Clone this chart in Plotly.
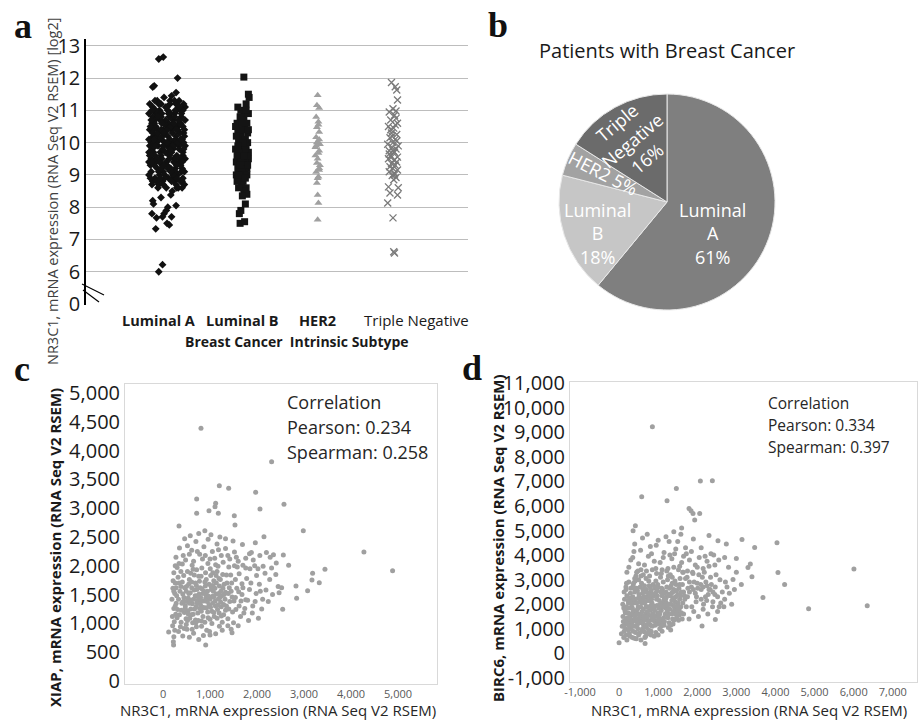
import plotly.graph_objects as go

W, H = 920, 722

# ---------------- Panel a data ----------------
subtypes = ["Luminal A", "Luminal B", "HER2", "Triple Negative"]
subtype_bold = [True, True, True, False]
log2_tickvals = [5, 6, 7, 8, 9, 10, 11, 12, 13]
log2_ticktext = ["0", "6", "7", "8", "9", "10", "11", "12", "13"]

# (horizontal jitter, log2 expression)
luminal_a = [
    (-0.22,10.1),(-0.15,9.4),(-0.08,10.8),(0.0,9.9),(0.07,8.9),(0.14,10.5),(0.21,9.6),(-0.19,11.1),(-0.11,8.7),(-0.03,10.3),
    (0.04,11.2),(0.11,9.2),(0.18,10.0),(0.24,10.7),(-0.24,9.0),(-0.17,10.6),(-0.09,9.7),(-0.01,8.6),(0.06,10.4),(0.13,11.0),
    (0.2,8.8),(-0.2,9.8),(-0.13,11.3),(-0.06,9.3),(0.02,10.6),(0.09,9.5),(0.16,11.3),(0.23,9.1),(-0.23,10.4),(-0.16,8.9),
    (-0.07,10.1),(0.01,11.0),(0.08,9.8),(0.15,8.6),(0.22,10.3),(-0.21,9.5),(-0.14,10.9),(-0.05,9.1),(0.03,9.6),(0.1,10.9),
    (0.17,9.4),(0.24,11.1),(-0.18,10.2),(-0.1,9.0),(-0.02,10.7),(0.05,9.2),(0.12,10.2),(0.19,10.8),(-0.24,10.9),(-0.12,9.9),
    (-0.04,11.4),(0.06,10.0),(0.14,9.0),(0.21,9.7),(-0.2,8.7),(-0.16,11.3),(-0.08,9.6),(0.0,10.5),(0.1,8.8),(0.18,10.6),
    (-0.22,9.3),(-0.14,10.0),(-0.06,8.8),(0.03,10.0),(0.12,11.2),(0.2,9.2),(-0.18,9.7),(-0.1,11.0),(-0.01,9.4),(0.08,10.7),
    (0.16,9.9),(0.23,10.4),(-0.23,11.2),(-0.15,10.5),(-0.07,9.5),(0.02,8.9),(0.11,10.1),(0.19,11.0),(-0.19,8.8),(-0.11,10.3),
    (-0.03,9.0),(0.05,10.9),(0.13,9.6),(0.21,8.9),(-0.21,10.0),(-0.13,9.2),(-0.05,10.4),(0.04,11.3),(0.12,8.7),(0.2,10.1),
    (-0.17,11.0),(-0.09,10.7),(0.0,9.3),(0.09,9.4),(0.17,10.3),(0.24,9.5),(-0.24,9.7),(-0.16,9.6),(-0.08,11.2),(0.01,10.2),
    (0.1,10.5),(0.18,9.3),(-0.2,10.6),(-0.12,8.6),(-0.04,10.6),(0.06,9.7),(0.15,11.1),(0.22,10.0),(-0.22,8.9),(-0.14,10.2),
    (-0.06,9.8),(0.03,10.8),(0.11,9.1),(0.19,10.9),(-0.18,10.4),(-0.1,9.4),(-0.02,11.1),(0.07,10.3),(0.16,9.8),(0.23,8.7),
    (-0.23,9.9),(-0.15,11.0),(-0.07,10.9),(0.02,9.7),(0.1,9.9),(0.18,8.8),(-0.19,10.8),(-0.11,9.1),(-0.03,10.0),(0.06,8.8),
    (0.14,10.4),(0.22,11.2),(-0.21,9.1),(-0.13,9.5),(-0.05,8.7),(0.04,10.1),(0.13,9.3),(0.21,10.5),(-0.17,9.3),(-0.09,10.8),
    (0.0,11.1),(0.08,9.0),(0.17,10.6),(0.24,9.9),(-0.24,10.1),(-0.16,10.7),(-0.08,9.2),(0.01,10.4),(0.1,10.8),(0.18,9.5),
    (-0.2,11.0),(-0.12,10.4),(-0.04,9.3),(0.05,10.5),(0.14,10.0),(0.21,11.0),(-0.22,10.5),(-0.14,8.8),(-0.06,10.2),(0.03,9.5),
    (0.11,11.0),(0.19,9.1),(-0.18,9.9),(-0.1,10.1),(-0.02,9.7),(0.07,9.9),(0.15,10.7),(0.23,10.2),(-0.23,9.6),(-0.15,9.9),
    (-0.07,10.6),(0.02,10.9),(0.12,10.4),(0.2,8.6),(-0.19,10.3),(-0.11,11.2),(-0.03,8.9),(0.05,9.1),(0.13,8.9),(0.22,9.8),
    (-0.21,10.7),(-0.13,10.3),(-0.05,9.9),(0.04,9.8),(0.12,9.5),(0.2,9.4),(-0.17,10.1),(-0.09,8.9),(0.0,10.0),(0.09,10.6),
    (0.17,11.1),(-0.24,9.4),(-0.16,9.4),(-0.08,10.4),(0.01,9.2),(0.1,11.3),(0.18,10.1),(-0.2,9.4),(-0.12,10.8),(-0.04,10.3),
    (-0.11,12.59),(-0.05,12.65),(0.14,12.0),(-0.19,11.72),(-0.17,11.76),(0.12,11.55),(0.06,11.45),
    (-0.11,6.0),(-0.06,6.22),(-0.15,7.33),(-0.2,7.8),(-0.14,7.67),(-0.06,7.7),(-0.04,7.8),(0.01,8.0),(-0.01,7.9),
    (0.0,7.5),(0.03,7.45),(0.12,8.05),(0.06,7.7),(-0.19,8.2),(-0.18,8.1),(-0.08,8.3),(0.05,8.38),(0.07,8.5),(0.13,8.6),
]

luminal_b = [
    (-0.08,9.0),(-0.05,9.6),(-0.02,10.2),(0.01,8.8),(0.04,9.3),(0.07,10.0),(-0.07,10.6),(-0.04,9.1),(-0.01,9.9),(0.02,10.9),
    (0.05,8.6),(0.08,9.5),(-0.06,10.4),(-0.03,8.9),(0.0,9.7),(0.03,10.5),(0.06,9.2),(-0.09,9.8),(-0.02,11.0),(0.04,9.4),
    (-0.05,10.1),(0.01,9.0),(0.07,10.3),(-0.08,9.4),(-0.01,8.7),(0.05,9.9),(-0.06,9.2),(0.02,10.7),(0.08,9.7),(-0.04,10.0),
    (0.03,9.1),(-0.07,8.8),(0.0,10.4),(0.06,9.0),(-0.03,9.5),(0.04,10.1),(-0.09,10.5),(0.01,9.3),(0.07,9.6),(-0.02,9.8),
    (-0.06,11.1),(0.05,11.2),(0.08,10.9),(-0.05,9.0),(0.02,8.5),(-0.03,10.8),(0.06,10.6),(-0.08,10.2),(0.0,9.2),(0.03,9.8),
    (-0.04,9.7),(0.07,9.3),(-0.01,10.6),(0.04,8.9),(-0.07,9.6),(0.01,10.0),(0.05,11.0),(-0.02,9.4),(0.08,10.4),(-0.05,8.6),
    (0.06,8.4),(-0.03,9.3),(0.02,9.6),(0.09,11.4),(0.08,11.5),(-0.06,9.9),
    (-0.03,7.5),(0.03,7.55),(-0.04,7.8),(-0.02,7.9),(0.04,8.1),(0.0,8.35),(0.02,12.03),
]

her2 = [
    (0.0,11.47),(-0.01,11.16),(0.02,11.07),(-0.02,10.79),(0.01,10.65),(-0.01,10.48),(0.02,10.33),(-0.02,10.17),(0.0,10.02),(0.03,9.95),
    (-0.03,9.86),(0.01,9.68),(0.0,9.5),(-0.01,9.37),(0.02,9.21),(-0.02,9.09),(0.01,8.94),(-0.01,8.75),(0.0,8.38),(0.01,8.13),
    (0.0,7.61),(0.02,10.1),(-0.02,9.9),(0.01,10.55),(0.03,9.3),(-0.03,9.6),(0.02,9.75),(-0.01,10.0),(0.0,8.9),(0.02,9.15),
]

triple_negative = [
    (-0.02,11.86),(0.03,11.73),(0.05,11.63),(0.06,11.32),(0.0,11.05),(-0.05,10.95),(0.04,10.98),(0.02,10.85),(-0.03,10.7),(0.06,10.6),
    (-0.06,10.5),(0.01,10.45),(-0.02,10.3),(0.05,10.25),(-0.04,10.15),(0.03,10.1),(0.0,10.0),(-0.07,9.95),(0.07,9.9),(-0.01,9.85),
    (0.04,9.8),(-0.05,9.75),(0.02,9.7),(-0.03,9.6),(0.06,9.55),(-0.06,9.5),(0.01,9.45),(0.05,9.4),(-0.02,9.35),(0.03,9.3),
    (-0.04,9.25),(0.0,9.2),(0.06,9.15),(-0.05,9.1),(0.02,9.05),(-0.01,8.98),(0.04,8.92),(0.01,8.85),(-0.06,8.63),(0.07,8.6),
    (-0.04,8.44),(0.06,8.38),(-0.07,8.13),(0.0,7.67),(0.01,6.62),(0.02,6.58),(0.03,10.55),(-0.03,10.4),(0.05,10.05),(-0.05,9.65),
    (0.02,9.0),(-0.01,10.2),(0.04,10.75),(-0.02,9.55),(0.0,9.75),
]

# ---------------- Panel b data ----------------
pie_title = "Patients with Breast Cancer"
pie_labels = ["Luminal A", "Luminal B", "HER2", "Triple Negative"]
pie_values = [61, 18, 5, 16]
pie_colors = ["#7f7f7f", "#c6c6c6", "#a2a2a2", "#6b6b6b"]

# ---------------- Panel c data (NR3C1, XIAP) ----------------
c_points = [
    (420,1510),(515,1380),(610,1620),(705,1290),(800,1450),(890,1720),(980,1330),(1070,1560),(1160,1240),(1250,1480),
    (455,1190),(560,1760),(650,1420),(740,1180),(830,1600),(925,1270),(1015,1830),(1110,1390),(1200,1650),(1290,1150),
    (380,1640),(475,1300),(570,1090),(665,1840),(760,1360),(850,1120),(945,1560),(1040,1210),(1135,1700),(1225,1370),
    (400,1350),(495,1560),(590,1250),(685,1480),(775,1730),(870,1390),(960,1100),(1055,1470),(1150,1900),(1240,1290),
    (440,1830),(535,1440),(625,1340),(720,1590),(815,1210),(905,1880),(1000,1420),(1090,1120),(1185,1520),(1275,1610),
    (350,1150),(445,1450),(545,1680),(640,1160),(735,1400),(825,1960),(920,1500),(1010,1280),(1105,1610),(1195,1180),
    (470,1260),(580,1530),(690,1060),(795,1330),(900,1650),(1005,1950),(1115,1300),(1220,1760),(1320,1420),(1400,1250),
    (520,1900),(620,2010),(715,1930),(810,1820),(955,2040),(1060,1880),(1170,1990),(1270,1850),(1360,1700),(1450,1560),
    (385,1020),(495,980),(600,1150),(710,940),(820,1040),(930,880),(1040,1000),(1150,1090),(1260,1020),(1380,960),
    (1330,1540),(1420,1380),(1480,1200),(1350,1840),(1460,1700),(1540,1450),(1620,1300),(1570,1610),(1680,1500),(1720,1180),
    (190,1420),(230,1260),(210,1610),(250,1520),(200,1120),(260,1700),(230,1880),(280,1350),(205,960),(240,1030),
    (300,1970),(270,1160),(320,1800),(215,1740),(290,1480),(250,880),(310,1240),(230,1560),(340,2040),(275,2150),
    (350,2310),(430,2180),(520,2350),(610,2270),(700,2420),(780,2200),(870,2330),(960,2460),(1050,2250),(1150,2380),
    (1240,2180),(1330,2300),(1420,2120),(1520,2240),(1600,2080),(460,2470),(580,2520),(760,2560),(890,2610),(1020,2540),
    (1210,2500),(1330,2470),(1490,2430),(1690,2370),(1840,2210),(650,2080),(840,2120),(1100,2130),(1280,2060),(410,2030),
    (1620,1860),(1700,2010),(1780,1780),(1850,1950),(1920,2100),(1990,1830),(2060,2180),(2130,1990),(2200,2230),(2280,2150),
    (2350,2190),(1760,1410),(1840,1590),(1910,1300),(1980,1520),(2050,1680),(2120,1420),(2190,1580),(2270,1760),(2400,1850),
    (1650,1120),(1740,1260),(1820,1050),(1900,1180),(1960,1380),(2030,1090),(2100,1250),(2240,1380),(2330,1500),(2450,1640),
    (1580,1980),(1680,1690),(1760,2130),(1870,1700),(1950,2000),(2020,1950),(2170,1870),(2310,1960),(2410,2050),(2470,1530),
    (330,860),(420,780),(510,900),(560,760),(650,830),(760,720),(860,790),(990,860),(1120,820),(1260,880),
    (1380,1080),(1500,1010),(1600,960),(700,1010),(450,910),
    (560,1350),(660,1580),(770,1510),(880,1270),(980,1680),(1080,1740),(1180,1430),(1290,1330),(1390,1520),(1510,1390),
    (610,1720),(710,1660),(850,1520),(940,1380),(1030,1590),(1130,1830),(1230,1560),(1330,1230),(1440,1840),(1540,1760),
    (500,1640),(590,1870),(760,1820),(1000,2120),(1120,2020),(1400,1980),(1520,2000),(1700,1620),(1800,1400),(2070,1560),
    (260,1300),(330,1420),(360,1560),(300,1100),(340,1700),(390,1230),(430,1380),(460,1620),(490,1080),(530,1220),
    (550,1520),(600,1400),(630,1010),(670,1250),(690,1700),(730,1480),(750,1050),(790,1620),(810,1390),(840,1280),
    (870,1560),(890,1020),(910,1440),(950,1200),(970,1470),(1000,1070),(1020,1650),(1060,1350),(1080,1190),(1130,1510),
    (1170,1320),(1210,1450),(1240,1130),(1300,1680),(1350,1300),(1410,1620),(1470,1460),(1550,1240),(1610,1550),(1660,1390),
    (280,1620),(370,940),(410,1720),(520,1050),(640,1940),(780,1260),(920,1760),(1080,1460),(1190,1780),(1300,1500),
    (380,1900),(480,2100),(560,2200),(730,2250),(900,2180),(1180,2280),(1380,2180),(1560,2150),(1760,1960),(1880,2230),
    (620,900),(820,950),(1000,800),(1200,950),(1450,900),(540,1160),(720,1360),(1060,1660),(260,2000),(460,1380),
    (808,4386),(2311,3808),(1198,3391),(1397,3345),(1971,3275),(2574,3067),(716,3160),(1120,3084),(1106,3027),(2063,2986),
    (716,2911),(978,2957),(1177,2911),(1517,2870),(2985,2610),(4275,2240),(4885,1915),(3446,1939),(3183,1869),(3169,1753),
    (3325,1707),(3077,1568),(2829,1649),(2843,1435),(2673,2008),(2560,2187),(2524,1620),(2546,1244),(2148,2506),(1964,2402),
    (1468,839),(908,625),(220,683),(225,625),(230,770),(120,851),(340,2691),(1531,2708),
]
c_corr = ["Correlation", "Pearson: 0.234", "Spearman: 0.258"]

# ---------------- Panel d data (NR3C1, BIRC6) ----------------
d_points = [
    (150,1200),(230,1650),(310,2100),(390,1400),(470,2550),(550,1900),(630,1150),(710,2300),(790,1750),(870,2800),
    (950,1500),(1030,2150),(1110,2600),(1190,1850),(1270,2400),(1350,1600),(1430,2950),(1510,2050),(1590,2500),(120,1850),
    (200,2350),(280,1050),(360,2750),(440,1700),(520,1250),(600,2450),(680,1600),(760,2950),(840,2050),(920,1300),
    (1000,2700),(1080,1750),(1160,2250),(1240,3000),(1320,2000),(1400,2600),(1480,1700),(1560,3050),(180,2600),(260,1450),
    (340,1850),(420,2200),(500,3000),(580,1550),(660,2050),(740,1350),(820,2550),(900,1850),(980,2350),(1060,3100),
    (1140,1450),(1220,2700),(1300,1800),(1380,2250),(1460,2800),(1540,1550),(100,1500),(170,1000),(250,2900),(330,1250),
    (410,2950),(490,1900),(570,2250),(650,2750),(730,1900),(810,1150),(890,2350),(970,1950),(1050,1250),(1130,2900),
    (1210,2050),(1290,2650),(1370,1400),(1450,2300),(1530,2650),(140,2200),(220,1250),(300,2650),(380,2050),(460,1150),
    (540,2700),(620,1800),(700,2600),(780,2150),(860,1600),(940,2950),(1020,1850),(1100,2350),(1180,1600),(1260,3150),
    (1340,2450),(1420,1850),(1500,2400),(1580,1900),(160,1650),(240,2050),(320,1550),(400,2500),(480,1400),(560,3150),
    (640,2300),(720,1700),(800,2700),(880,1400),(960,2200),(1040,1600),(1120,2050),(1200,2500),(1280,1250),(1360,2850),
    (1440,2100),(1520,1350),(190,2850),(270,2250),(350,1650),(430,3150),(510,1600),(590,2050),(670,1350),(750,2450),
    (830,1800),(910,2650),(990,1650),(1070,2500),(1150,2150),(1230,1900),(1310,3200),(1390,1700),(1470,2550),(1550,2200),
    (130,900),(210,1850),(290,2450),(370,1750),(450,2650),(530,2100),(610,1450),(690,3050),(770,1550),(850,2400),
    (60,800),(120,650),(200,550),(280,700),(360,900),(440,600),(520,820),(600,1000),(680,700),(760,950),
    (850,1100),(940,850),(1040,1000),(1150,1150),(1260,1050),(1380,1200),(300,1000),(420,1100),(560,550),(700,1050),
    (80,1100),(180,750),(250,1150),(390,620),(480,1000),(650,880),(820,750),(980,1200),(1100,900),(1320,950),
    (250,3500),(350,3900),(450,3300),(550,4200),(650,3600),(750,3950),(850,3400),(950,4400),(1050,3700),(1150,4100),
    (1250,3450),(1350,3850),(1450,4250),(1550,3550),(1650,3950),(1750,3350),(1850,4150),(1950,3600),(2050,3900),(2150,3450),
    (2250,3750),(2350,4050),(2450,3600),(2550,3800),(300,3800),(400,4450),(500,3650),(600,4700),(700,3350),(800,4350),
    (900,3750),(1000,4600),(1100,3400),(1200,4750),(1300,4000),(1400,3500),(1500,4550),(1600,3700),(1700,4300),(1800,3800),
    (1900,4650),(2000,3500),(2100,4300),(2200,3950),(2300,3550),(200,3300),(380,4150),(720,4850),(1280,4550),(1580,4850),
    (830,4050),(1130,3900),(1420,4050),(1720,4050),(2420,4000),(960,3250),(1640,3300),(560,3400),(1880,3300),(2180,3300),
    (1620,2800),(1680,2200),(1740,3100),(1800,2500),(1860,1900),(1920,2900),(1980,2300),(2040,3200),(2100,2600),(2160,2000),
    (2220,2900),(2280,2400),(2340,3100),(2400,2100),(2460,2700),(2520,2300),(2580,3000),(2640,2500),(2700,2200),(2760,2700),
    (1650,1600),(1720,1900),(1790,1400),(1850,2700),(1910,1700),(1970,2100),(2030,1500),(2090,2800),(2150,1800),(2210,2300),
    (2270,1600),(2330,2600),(2390,1900),(2450,2400),(2520,1700),(2600,2050),(2680,1900),(2820,2450),(2880,2000),(2950,2600),
    (1630,3300),(1760,2650),(1890,3250),(2010,2650),(2130,3100),(2240,2150),(2360,2800),(2480,3200),(2560,1900),(2720,2900),
    (110,1300),(190,1900),(270,1600),(350,2300),(430,1350),(510,2400),(590,1700),(670,2500),(750,1200),(830,2200),
    (910,1750),(990,2800),(1070,1400),(1150,2450),(1230,1700),(1310,2350),(1390,1950),(1470,1450),(1550,2800),(1630,2050),
    (130,2500),(210,1450),(290,1850),(370,2850),(450,2050),(530,1550),(610,2600),(690,1900),(770,2750),(850,1350),
    (930,2450),(1010,1500),(1090,2650),(1170,1950),(1250,1450),(1330,2750),(1410,2250),(1490,1950),(1570,2350),(1650,2500),
    (95,2000),(175,2700),(255,1350),(335,2150),(415,1550),(495,2250),(575,2850),(655,1500),(735,2150),(815,1950),
    (895,1550),(975,2550),(1055,2000),(1135,1250),(1215,2300),(1295,2000),(1375,2500),(1455,1600),(1535,1800),(1615,1400),
    (150,1750),(230,2150),(310,1300),(390,2650),(470,1800),(550,1350),(630,2150),(710,1450),(790,2350),(870,1950),
    (950,2700),(1030,1350),(1110,1900),(1190,2200),(1270,1600),(1350,2150),(1430,2550),(1510,1800),(1590,1650),(1670,2350),
    (120,1100),(200,1250),(280,1400),(360,1100),(440,1300),(520,1450),(600,1250),(680,1150),(760,1300),(840,1450),
    (920,1150),(1000,1350),(1080,1100),(1160,1300),(1240,1550),(1320,1150),(1400,1350),(260,800),(340,650),(420,850),
    (500,750),(580,900),(660,650),(740,800),(820,900),(900,700),(1000,750),(160,1350),(240,950),(320,2000),
    (400,3050),(480,3350),(620,3200),(780,3150),(940,3450),(1080,3250),(1220,3350),(1360,3100),(1520,3400),(1700,3050),
    (1800,2900),(1900,2600),(2000,2850),(2150,2700),(2300,2600),(1750,2300),(1950,2450),(2100,2200),(2250,2750),(2400,2500),
    (852,9221),(2079,7011),(2386,7024),(1465,6712),(1227,6210),(579,6373),(1789,5899),(1891,5695),(2062,5695),(1934,5424),
    (1840,5800),(417,5193),(358,4990),(3144,4638),(3468,4312),(4039,4502),(4064,3295),(4234,2807),(3399,3119),(3357,3634),
    (3680,2278),(6007,3431),(6347,1939),(4848,1817),(3297,3499),(2999,3865),(2743,4448),(2530,4583),(2914,3011),(3127,2807),
    (2462,1383),(2122,1112),(0,434),(665,407),(1600,5100),(1400,4950),(2300,4800),(2700,3900),(2800,3500),(3000,3300),
]
d_corr = ["Correlation", "Pearson: 0.334", "Spearman: 0.397"]

c_xticks = [0, 1000, 2000, 3000, 4000, 5000]
c_yticks = [0, 500, 1000, 1500, 2000, 2500, 3000, 3500, 4000, 4500, 5000]
d_xticks = [-1000, 0, 1000, 2000, 3000, 4000, 5000, 6000, 7000]
d_yticks = [-1000, 0, 1000, 2000, 3000, 4000, 5000, 6000, 7000, 8000, 9000, 10000, 11000]

xlabel_cd = "NR3C1, mRNA expression (RNA Seq V2 RSEM)"
ylabel_a = "NR3C1, mRNA expression (RNA Seq V2 RSEM) [log2]"
xlabel_a = "Breast Cancer  Intrinsic Subtype"
ylabel_c = "XIAP, mRNA expression (RNA Seq V2 RSEM)"
ylabel_d = "BIRC6, mRNA expression (RNA Seq V2 RSEM)"

FONT = "Open Sans"
TXT = "#262626"


def px(x):
    return x / W


def py(y):
    return 1 - y / H


def fmt(vals):
    return ["{:,}".format(v) for v in vals]


fig = go.Figure()

# ---- panel a traces
groups = [luminal_a, luminal_b, her2, triple_negative]
styles = [
    dict(symbol="diamond", size=6, color="#111111"),
    dict(symbol="square", size=7, color="#141414"),
    dict(symbol="triangle-up", size=7, color="#a0a0a0"),
    dict(symbol="x-thin", size=7, color="#7a7a7a", line=dict(width=1.3, color="#7a7a7a")),
]
for i, (g, st) in enumerate(zip(groups, styles)):
    fig.add_trace(go.Scatter(
        x=[i + 1 + d for d, _ in g], y=[v for _, v in g], mode="markers",
        marker=st, name=subtypes[i], showlegend=False, xaxis="x", yaxis="y",
        hoverinfo="skip"))

# ---- panel b pie
fig.add_trace(go.Pie(
    labels=pie_labels, values=pie_values, sort=False, direction="clockwise", rotation=0,
    marker=dict(colors=pie_colors, line=dict(color="#e8e8e8", width=1)),
    textinfo="none", showlegend=False, hoverinfo="skip", automargin=False,
    domain=dict(x=[px(559), px(775)], y=[py(310), py(94)])))

# ---- panel c / d scatters
fig.add_trace(go.Scatter(
    x=[p[0] for p in c_points], y=[p[1] for p in c_points], mode="markers",
    marker=dict(size=5, color="#a0a0a0"), showlegend=False, xaxis="x2", yaxis="y2", hoverinfo="skip"))
fig.add_trace(go.Scatter(
    x=[p[0] for p in d_points], y=[p[1] for p in d_points], mode="markers",
    marker=dict(size=5, color="#a0a0a0"), showlegend=False, xaxis="x3", yaxis="y3", hoverinfo="skip"))

frame = dict(showline=True, mirror=True, linecolor="#d9d9d9", linewidth=1,
             showgrid=False, zeroline=False, ticks="", automargin=False)

fig.update_layout(
    width=W, height=H, margin=dict(l=0, r=0, t=0, b=0, autoexpand=False),
    paper_bgcolor="white", plot_bgcolor="white",
    font=dict(family=FONT, color=TXT),
    xaxis=dict(domain=[px(86), px(468)], range=[-0.076, 4.996], tickvals=[1, 2, 3, 4],
               showticklabels=False, showgrid=False, zeroline=False, showline=False, ticks="",
               anchor="y", automargin=False),
    yaxis=dict(domain=[py(305), py(39)], range=[4.97, 13.21], tickvals=log2_tickvals,
               ticktext=log2_ticktext, tickfont=dict(size=20, color="#1a1a1a"),
               showgrid=True, gridcolor="#bdbdbd", gridwidth=1, zeroline=False,
               showline=True, linecolor="#000000", linewidth=1.5, ticks="", anchor="x", automargin=False),
    xaxis2=dict(domain=[px(125), px(437)], range=[-809, 5830], tickvals=c_xticks, ticktext=fmt(c_xticks),
                tickfont=dict(size=11, color="#595959"), anchor="y2", **frame),
    yaxis2=dict(domain=[py(684), py(384)], range=[-52, 5156], tickvals=c_yticks, ticktext=fmt(c_yticks),
                tickfont=dict(size=20, color="#1a1a1a"), anchor="x2", **frame),
    xaxis3=dict(domain=[px(570), px(917)], range=[-1255, 7620], tickvals=d_xticks, ticktext=fmt(d_xticks),
                tickfont=dict(size=11, color="#595959"), anchor="y3", **frame),
    yaxis3=dict(domain=[py(682), py(382)], range=[-1163, 11041], tickvals=d_yticks, ticktext=fmt(d_yticks),
                tickfont=dict(size=20, color="#1a1a1a"), anchor="x3", **frame),
)

ann = []


def add_text(x, y, text, size, color=TXT, family=FONT, angle=0, xanchor="center", yanchor="middle", bold=False):
    ann.append(dict(x=px(x), y=py(y), xref="paper", yref="paper", text=("<b>%s</b>" % text) if bold else text,
                    showarrow=False, font=dict(size=size, color=color, family=family),
                    textangle=angle, xanchor=xanchor, yanchor=yanchor))


# panel letters
for letter, (lx, ly) in zip("abcd", [(23, 26), (498, 25), (22, 369), (472, 368)]):
    add_text(lx, ly, letter, 36, color="#111111", family="Liberation Serif", bold=True)

# panel a category labels and titles
for lab, b, lx in zip(subtypes, subtype_bold, [158, 243, 317, 416]):
    add_text(lx, 320.5, lab, 14.5 if b else 15, color="#1a1a1a", bold=b)
add_text(52, 192, ylabel_a, 14.5, color="#404040", angle=-90)
add_text(297, 341.5, xlabel_a, 14, color="#1a1a1a", bold=True)

# panel b title and slice labels
add_text(667, 51, pie_title, 20, color="#1a1a1a")
pie_lines = ["Luminal<br>A", "Luminal<br>B", "HER2", "Triple<br>Negative"]
pie_sep = ["<br>", "<br>", " ", "<br>"]
pie_pos = [(712, 233, 0), (597, 233, 0), (603, 173, 27), (632, 140, -40)]
for lab, sep, v, (lx, ly, ang) in zip(pie_lines, pie_sep, pie_values, pie_pos):
    add_text(lx, ly, "%s%s%d%%" % (lab, sep, v), 18, color="white", angle=ang)

# panel c / d titles
add_text(55, 548, ylabel_c, 15, color="#1a1a1a", angle=-90, bold=True)
add_text(278, 722, xlabel_cd, 15, color="#262626", yanchor="bottom")
add_text(498, 538, ylabel_d, 15, color="#1a1a1a", angle=-90, bold=True)
add_text(749, 722, xlabel_cd, 15, color="#262626", yanchor="bottom")

# correlation boxes
for i, line in enumerate(c_corr):
    add_text(285, 402 + 25 * i, line, 18, xanchor="left")
for i, line in enumerate(d_corr):
    add_text(766, 403 + 22 * i, line, 15.5, xanchor="left")

fig.update_layout(annotations=ann)

# axis break marks on panel a
fig.update_layout(shapes=[
    dict(type="line", xref="paper", yref="paper", x0=px(82), y0=py(284), x1=px(104), y1=py(295),
         line=dict(color="#000000", width=1.2)),
    dict(type="line", xref="paper", yref="paper", x0=px(83), y0=py(290), x1=px(99), y1=py(302),
         line=dict(color="#000000", width=1.2)),
])

fig.write_html("out.html", config={"displayModeBar": False},
               post_script="document.body.style.margin='0';document.body.style.overflow='hidden';")
